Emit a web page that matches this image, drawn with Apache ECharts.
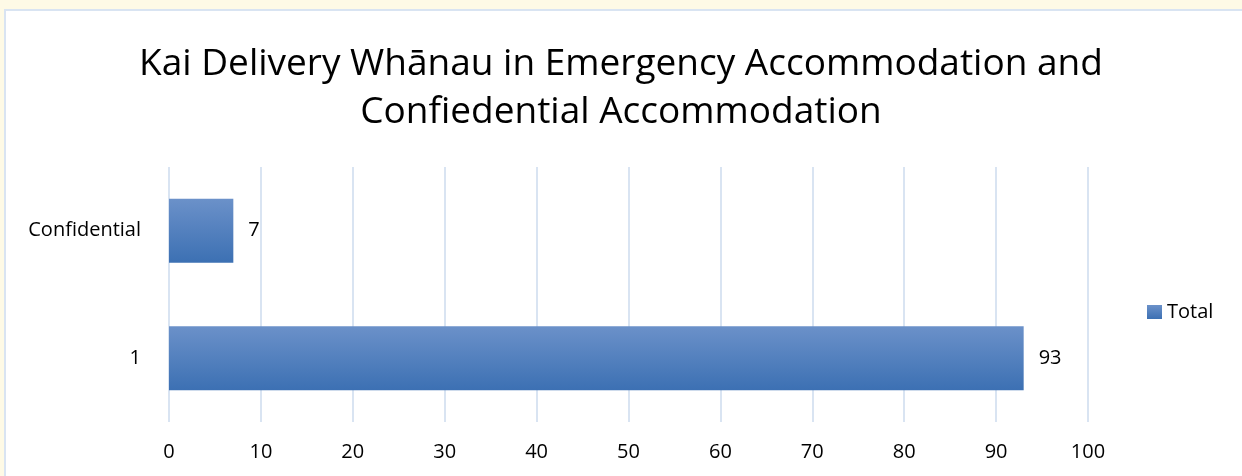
<!DOCTYPE html>
<html>
<head>
<meta charset="utf-8">
<script src="https://cdn.jsdelivr.net/npm/echarts@6/dist/echarts.min.js"></script>
<style>
  html, body { margin: 0; padding: 0; background: #fefae6; }
  #chart { width: 1242px; height: 476px; }
</style>
</head>
<body>
<div id="chart"></div>
<script>
const TITLE = "Kai Delivery Whānau in Emergency Accommodation and\nConfiedential Accommodation";
const categories = ["1", "Confidential"];
const totals = [93, 7];
const xTicks = { min: 0, max: 100, interval: 10 };

const FONT = "'Open Sans', 'Noto Sans', sans-serif";
const GRID = "#d9e4f2";

const chart = echarts.init(document.getElementById("chart"), undefined, { renderer: "canvas" });

chart.setOption({
  backgroundColor: "#fefae6",
  animation: false,
  graphic: [
    {
      type: "rect",
      z: -10,
      shape: { x: 5, y: 10, width: 1300, height: 500 },
      style: { fill: "#ffffff", stroke: GRID, lineWidth: 2 },
    },
  ],
  title: {
    text: TITLE,
    left: "center",
    top: 35,
    textStyle: { fontFamily: FONT, fontSize: 37, fontWeight: "normal", color: "#000", lineHeight: 48 },
  },
  grid: { left: 169, right: 154, top: 167, bottom: 54 },
  xAxis: {
    type: "value",
    min: xTicks.min,
    max: xTicks.max,
    interval: xTicks.interval,
    axisLine: { show: false },
    axisTick: { show: false },
    axisLabel: { color: "#000", fontFamily: FONT, fontSize: 20, margin: 20 },
    splitLine: { lineStyle: { color: GRID, width: 2 } },
  },
  yAxis: {
    type: "category",
    data: categories,
    axisLine: { show: false },
    axisTick: { show: false },
    axisLabel: { color: "#000", fontFamily: FONT, fontSize: 20, margin: 28 },
  },
  legend: {
    left: 1142,
    top: 297,
    itemWidth: 15,
    itemHeight: 14,
    itemGap: 5,
    icon: "rect",
    textStyle: { color: "#000", fontFamily: FONT, fontSize: 20 },
    data: ["Total"],
  },
  series: [
    {
      name: "Total",
      type: "bar",
      data: totals,
      barWidth: 64,
      itemStyle: {
        color: new echarts.graphic.LinearGradient(0, 0, 0, 1, [
          { offset: 0, color: "#6b91c9" },
          { offset: 1, color: "#3c70b3" },
        ]),
      },
      label: {
        show: true,
        position: "right",
        distance: 15,
        color: "#000",
        fontFamily: FONT,
        fontSize: 20,
      },
    },
  ],
});
</script>
</body>
</html>
